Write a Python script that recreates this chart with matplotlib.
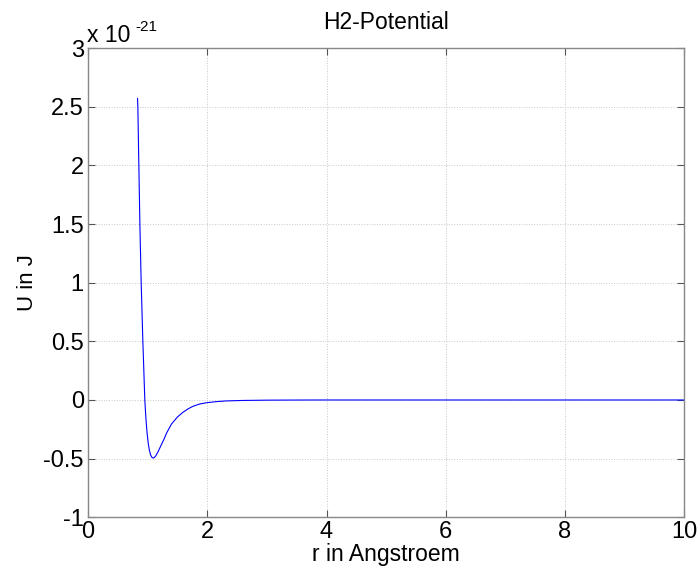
import matplotlib
matplotlib.use("Agg")
import matplotlib.pyplot as plt
import numpy as np

plt.rcParams['font.family'] = ['Liberation Sans', 'DejaVu Sans']

# values, U in units of 1e-21 J
r_angstrom = [0.831, 0.836, 0.853, 0.870, 0.892, 0.920, 0.953, 0.970, 0.990,
              1.010, 1.030, 1.050, 1.070, 1.092, 1.110, 1.140, 1.180, 1.220,
              1.260, 1.320, 1.400, 1.500, 1.592, 1.680, 1.760, 1.860, 1.980,
              2.150, 2.320, 2.600, 3.000, 3.500, 4.0, 6.0, 8.0, 10.0]
u_e21 = [2.57, 2.50, 2.00, 1.50, 1.00, 0.50, 0.00, -0.147, -0.277,
         -0.368, -0.430, -0.468, -0.488, -0.495, -0.491, -0.474, -0.436, -0.392,
         -0.350, -0.280, -0.205, -0.145, -0.105, -0.075, -0.054, -0.036, -0.024,
         -0.014, -0.008, -0.004, -0.0015, -0.0005, 0.0, 0.0, 0.0, 0.0]
xticks = [0, 2, 4, 6, 8, 10]
yticks = [-1, -0.5, 0, 0.5, 1, 1.5, 2, 2.5, 3]
yticklabels = ['-1', '-0.5', '0', '0.5', '1', '1.5', '2', '2.5', '3']

fig = plt.figure(figsize=(7, 5.73), dpi=100)
ax = fig.add_axes([0.1257, 0.0972, 0.8519, 0.819])

ax.plot(r_angstrom, u_e21, color='#0000ff', lw=0.8)

ax.set_xlim(0, 10)
ax.set_ylim(-1, 3)
ax.set_xticks(xticks)
ax.set_xticklabels([str(t) for t in xticks])
ax.set_yticks(yticks)
ax.set_yticklabels(yticklabels)
ax.tick_params(direction='in', length=5, width=0.8, color='#555555',
               labelsize=17, top=True, right=True, pad=3)
for s in ax.spines.values():
    s.set_color('#888888')
    s.set_linewidth(1.0)
ax.grid(True, linestyle=':', color='#c8c8c8', linewidth=0.7)

ax.set_title('H2-Potential', fontsize=16.5, pad=13.5)
ax.set_xlabel('r in Angstroem', fontsize=16.5, labelpad=0)
ax.set_ylabel('U in J', fontsize=16, labelpad=4)

# MATLAB style exponent above the axes
fig.text(87.3 / 700, 1 - 41.7 / 573, 'x 10', fontsize=16.5, ha='left', va='baseline')
fig.text(135 / 700, 1 - 30.7 / 573, '-21', fontsize=11, ha='left', va='baseline')

fig.savefig('out.png', dpi=100)
